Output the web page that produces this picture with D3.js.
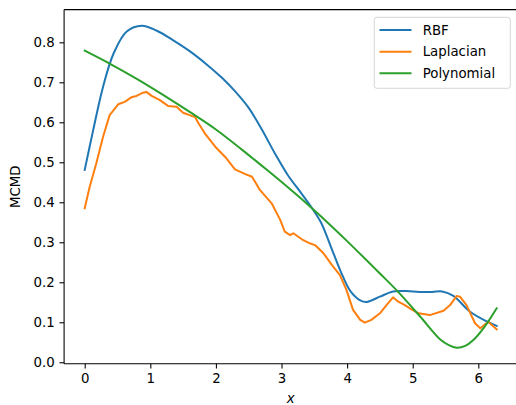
<!DOCTYPE html>
<html>
<head>
<meta charset="utf-8">
<script src="https://cdn.jsdelivr.net/npm/d3@7"></script>
<style>
  html, body { margin: 0; padding: 0; background: #fff; }
  svg { display: block; font-family: "DejaVu Sans", sans-serif; }
</style>
</head>
<body>
<svg id="chart" width="516" height="405"></svg>
<script>
// MCMD against x for three kernels
const rbfX = [0, 0.13, 0.28, 0.44, 0.64, 0.87, 1.1, 1.35, 1.6, 1.85, 2.1, 2.3, 2.5, 2.7, 2.9, 3.1, 3.3, 3.45, 3.6, 3.75, 3.9, 4.05, 4.2, 4.3, 4.5, 4.7, 4.9, 5.1, 5.3, 5.45, 5.62, 5.87, 6.13, 6.28];
const rbfY = [0.481, 0.581, 0.689, 0.772, 0.827, 0.8415, 0.829, 0.805, 0.778, 0.746, 0.71, 0.676, 0.636, 0.582, 0.522, 0.467, 0.423, 0.389, 0.35, 0.29, 0.228, 0.178, 0.155, 0.151, 0.164, 0.177, 0.178, 0.176, 0.176, 0.177, 0.166, 0.127, 0.102, 0.091];

const lapX = [0, 0.076, 0.177, 0.28, 0.38, 0.51, 0.61, 0.71, 0.79, 0.89, 0.94, 1.02, 1.14, 1.27, 1.40, 1.50, 1.63, 1.68, 1.73, 1.83, 1.99, 2.16, 2.29, 2.44, 2.55, 2.67, 2.85, 2.98, 3.05, 3.13, 3.18, 3.31, 3.43, 3.51, 3.64, 3.77, 3.89, 3.99, 4.09, 4.20, 4.27, 4.37, 4.50, 4.60, 4.70, 4.78, 4.88, 4.98, 5.09, 5.26, 5.47, 5.57, 5.67, 5.72, 5.82, 5.95, 6.03, 6.15, 6.28];
const lapY = [0.385, 0.439, 0.4975, 0.564, 0.618, 0.645, 0.651, 0.6625, 0.666, 0.674, 0.676, 0.666, 0.656, 0.641, 0.639, 0.624, 0.616, 0.614, 0.599, 0.5725, 0.539, 0.51, 0.4825, 0.471, 0.464, 0.431, 0.3975, 0.356, 0.3265, 0.318, 0.3225, 0.3075, 0.2975, 0.293, 0.2725, 0.243, 0.218, 0.181, 0.131, 0.106, 0.099, 0.106, 0.1225, 0.143, 0.1625, 0.1515, 0.143, 0.1325, 0.1225, 0.118, 0.129, 0.143, 0.166, 0.164, 0.143, 0.0975, 0.085, 0.1015, 0.0825];

const polyX = [0, 0.4, 0.8, 1.2, 1.6, 2.0, 2.4, 2.8, 3.2, 3.43, 3.66, 4.0, 4.5, 4.76, 5.11, 5.42, 5.55, 5.67, 5.8, 5.92, 6.1, 6.28];
const polyY = [0.779, 0.745, 0.708, 0.668, 0.626, 0.582, 0.531, 0.478, 0.423, 0.39, 0.356, 0.303, 0.222, 0.179, 0.115, 0.057, 0.043, 0.0365, 0.041, 0.055, 0.09, 0.135];

const xTicks = [0, 1, 2, 3, 4, 5, 6];
const yTicks = [0.0, 0.1, 0.2, 0.3, 0.4, 0.5, 0.6, 0.7, 0.8];

const seriesNames = ["RBF", "Laplacian", "Polynomial"];
const seriesColors = ["#1f77b4", "#ff7f0e", "#2ca02c"];

const series = [
  { name: seriesNames[0], color: seriesColors[0], xs: rbfX, ys: rbfY, curve: d3.curveCatmullRom.alpha(0.5) },
  { name: seriesNames[1], color: seriesColors[1], xs: lapX, ys: lapY, curve: d3.curveLinear },
  { name: seriesNames[2], color: seriesColors[2], xs: polyX, ys: polyY, curve: d3.curveCatmullRom.alpha(0.5) }
];

const svg = d3.select("#chart");
const plot = { left: 64.1, right: 517.5, top: 9.6, bottom: 363.8 };
const fontSize = 13.33;

const x = d3.scaleLinear().domain([-0.3142, 6.5973]).range([plot.left, plot.right]);
const y = d3.scaleLinear().domain([-0.0038, 0.8818]).range([plot.bottom, plot.top]);

// data lines
const g = svg.append("g");
series.forEach(s => {
  const pts = s.xs.map((v, i) => [v, s.ys[i]]);
  g.append("path")
    .datum(pts)
    .attr("fill", "none")
    .attr("stroke", s.color)
    .attr("stroke-width", 2)
    .attr("stroke-linejoin", "round")
    .attr("stroke-linecap", "square")
    .attr("d", d3.line().x(d => x(d[0])).y(d => y(d[1])).curve(s.curve));
});

// axes
const xAxis = d3.axisBottom(x).tickValues(xTicks).tickFormat(d3.format("d"))
  .tickSizeInner(4.67).tickSizeOuter(0).tickPadding(4.67);
const yAxis = d3.axisLeft(y).tickValues(yTicks).tickFormat(d3.format(".1f"))
  .tickSizeInner(4.67).tickSizeOuter(0).tickPadding(4.67);

const gx = svg.append("g").attr("transform", `translate(0,${plot.bottom})`).call(xAxis);
const gy = svg.append("g").attr("transform", `translate(${plot.left},0)`).call(yAxis);
[gx, gy].forEach(a => {
  a.select(".domain").remove();
  a.selectAll(".tick line").attr("stroke", "#000").attr("stroke-width", 1.07);
  a.selectAll(".tick text").attr("fill", "#000")
    .style("font-family", "DejaVu Sans, sans-serif").style("font-size", fontSize + "px");
});

// spines (the right one falls just past the edge)
const spine = svg.append("g").attr("stroke", "#000").attr("stroke-width", 1.07).attr("fill", "none");
spine.append("line").attr("x1", plot.left).attr("x2", plot.left).attr("y1", plot.top).attr("y2", plot.bottom);
spine.append("line").attr("x1", plot.left).attr("x2", plot.right).attr("y1", plot.bottom).attr("y2", plot.bottom);
spine.append("line").attr("x1", plot.left).attr("x2", plot.right).attr("y1", plot.top).attr("y2", plot.top);
spine.append("line").attr("x1", plot.right).attr("x2", plot.right).attr("y1", plot.top).attr("y2", plot.bottom);

// axis labels
svg.append("text")
  .attr("x", (plot.left + plot.right) / 2)
  .attr("y", 402.5)
  .attr("text-anchor", "middle")
  .style("font-family", "DejaVu Sans, sans-serif")
  .style("font-style", "italic")
  .style("font-size", fontSize + "px")
  .text("x");

svg.append("text")
  .attr("transform", `translate(19.5,${(plot.top + plot.bottom) / 2}) rotate(-90)`)
  .attr("text-anchor", "middle")
  .style("font-family", "DejaVu Sans, sans-serif")
  .style("font-size", fontSize + "px")
  .text("MCMD");

// legend
const leg = svg.append("g");
leg.append("rect")
  .attr("x", 374.3).attr("y", 17.3).attr("width", 136).attr("height", 71)
  .attr("rx", 2.5).attr("ry", 2.5)
  .attr("fill", "#fff").attr("fill-opacity", 0.8)
  .attr("stroke", "#d6d6d6").attr("stroke-width", 1);
series.forEach((s, i) => {
  const cy = 30 + i * 21.65;
  leg.append("line")
    .attr("x1", 379.5).attr("x2", 411.5).attr("y1", cy).attr("y2", cy)
    .attr("stroke", s.color).attr("stroke-width", 2);
  leg.append("text")
    .attr("x", 422.7).attr("y", cy)
    .attr("dy", "0.36em")
    .style("font-family", "DejaVu Sans, sans-serif")
    .style("font-size", fontSize + "px")
    .text(s.name);
});
</script>
</body>
</html>
